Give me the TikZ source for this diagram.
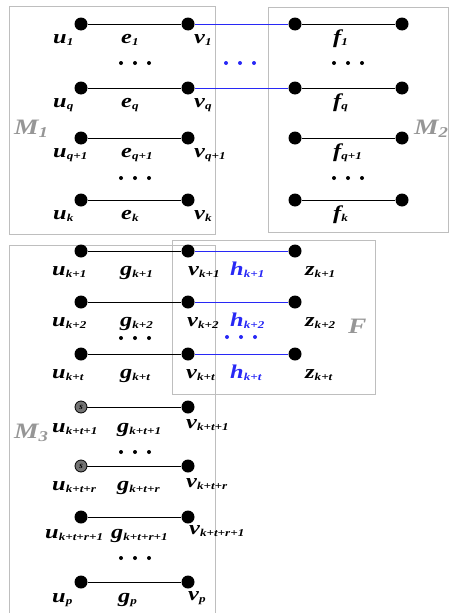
\documentclass[tikz,border=0pt]{standalone}
\usepackage{fontspec}
\setmainfont{Liberation Serif}
\newfontfamily\lblfont[FakeStretch=1.25]{Liberation Serif}
\definecolor{boxgray}{RGB}{190,190,190}
\definecolor{lblgray}{RGB}{150,150,150}
\definecolor{eblue}{RGB}{40,40,245}
\definecolor{sgray}{RGB}{115,115,115}
\newcommand\lb[2]{{\lblfont\bfseries\itshape #1\raisebox{-2.5pt}{\fontsize{10.5}{10.5}\selectfont #2}}}
\tikzset{
  vtx/.style={circle,fill=black,inner sep=0pt,minimum size=13pt},
  svtx/.style={circle,fill=sgray,draw=black,line width=0.8pt,inner sep=0pt,minimum size=12pt,font=\fontsize{9}{9}\selectfont\bfseries\itshape},
  lbl/.style={anchor=base west,inner sep=0pt,font=\fontsize{19.5}{19.5}\selectfont},
  blbl/.style={lbl,text=eblue},
  mlbl/.style={anchor=base west,inner sep=0pt,text=lblgray,font=\fontsize{22}{22}\selectfont\lblfont\bfseries\itshape},
  edge/.style={draw=black,line width=0.9pt},
  bedge/.style={draw=eblue,line width=0.9pt},
  frame/.style={draw=boxgray,line width=0.9pt},
  pics/dots/.style={code={\foreach \i in {-14,0,14} \fill (\i,0) circle (2pt);}}
}
\begin{document}
\begin{tikzpicture}[x=1pt,y=-1pt]
\useasboundingbox (0,0) rectangle (450,613);
% boxes
\draw[frame] (9,6) rectangle (215,234);
\draw[frame] (268,7) rectangle (448,232);
\draw[frame] (9,245) rectangle (215,616);
\draw[frame] (172,240) rectangle (375,394);
% group labels
\node[mlbl] (M1) at (14,134) {M\raisebox{-3pt}{\fontsize{15}{15}\selectfont 1}};
\node[mlbl] (M2) at (414,134) {M\raisebox{-3pt}{\fontsize{15}{15}\selectfont 2}};
\node[mlbl] (M3) at (14,438) {M\raisebox{-3pt}{\fontsize{15}{15}\selectfont 3}};
\node[mlbl] (F) at (348,333) {F};
% top vertices
\foreach \n/\y in {1/24,q/88,q1/138,k/200}{
  \node[vtx] (u\n) at (81,\y) {};
  \node[vtx] (v\n) at (188,\y) {};
  \node[vtx] (fa\n) at (295,\y) {};
  \node[vtx] (fb\n) at (402,\y) {};
  \draw[edge] (u\n) -- (v\n);
  \draw[edge] (fa\n) -- (fb\n);
}
\draw[bedge] (v1) -- (fa1);
\draw[bedge] (vq) -- (faq);
% top labels
\node[lbl] (lu1) at (53,43) {\lb{u}{1}};
\node[lbl] (le1) at (121,43) {\lb{e}{1}};
\node[lbl] (lv1) at (194,43) {\lb{v}{1}};
\node[lbl] (lf1) at (333,43) {\lb{f}{1}};
\node[lbl] (luq) at (53,107) {\lb{u}{q}};
\node[lbl] (leq) at (121,107) {\lb{e}{q}};
\node[lbl] (lvq) at (194,107) {\lb{v}{q}};
\node[lbl] (lfq) at (333,107) {\lb{f}{q}};
\node[lbl] (luq1) at (53,157) {\lb{u}{q+1}};
\node[lbl] (leq1) at (121,157) {\lb{e}{q+1}};
\node[lbl] (lvq1) at (194,157) {\lb{v}{q+1}};
\node[lbl] (lfq1) at (333,157) {\lb{f}{q+1}};
\node[lbl] (luk) at (53,219) {\lb{u}{k}};
\node[lbl] (lek) at (121,219) {\lb{e}{k}};
\node[lbl] (lvk) at (194,219) {\lb{v}{k}};
\node[lbl] (lfk) at (333,219) {\lb{f}{k}};
% dots top
\pic at (135,63) {dots};
\pic[fill=eblue] at (240,63) {dots};
\pic at (348,63) {dots};
\pic at (135,178) {dots};
\pic at (348,178) {dots};
% lower vertices
\foreach \n/\y in {k1/251,k2/302,kt/354}{
  \node[vtx] (u\n) at (81,\y) {};
  \node[vtx] (v\n) at (188,\y) {};
  \node[vtx] (z\n) at (295,\y) {};
  \draw[edge] (u\n) -- (v\n);
  \draw[bedge] (v\n) -- (z\n);
}
\node[svtx] (ukt1) at (81,407) {s};
\node[vtx] (vkt1) at (188,407) {};
\draw[edge] (ukt1) -- (vkt1);
\node[svtx] (uktr) at (81,466) {s};
\node[vtx] (vktr) at (188,466) {};
\draw[edge] (uktr) -- (vktr);
\node[vtx] (uktr1) at (81,517) {};
\node[vtx] (vktr1) at (188,517) {};
\draw[edge] (uktr1) -- (vktr1);
\node[vtx] (up) at (81,582) {};
\node[vtx] (vp) at (188,582) {};
\draw[edge] (up) -- (vp);
% lower labels
\node[lbl] (luk1) at (52,275) {\lb{u}{k+1}};
\node[lbl] (lgk1) at (120,275) {\lb{g}{k+1}};
\node[lbl] (lvk1) at (188,275) {\lb{v}{k+1}};
\node[blbl] (lhk1) at (230,275) {\lb{h}{k+1}};
\node[lbl] (lzk1) at (305,275) {\lb{z}{k+1}};
\node[lbl] (luk2) at (52,326) {\lb{u}{k+2}};
\node[lbl] (lgk2) at (120,326) {\lb{g}{k+2}};
\node[lbl] (lvk2) at (187,326) {\lb{v}{k+2}};
\node[blbl] (lhk2) at (230,326) {\lb{h}{k+2}};
\node[lbl] (lzk2) at (305,326) {\lb{z}{k+2}};
\node[lbl] (lukt) at (52,378) {\lb{u}{k+t}};
\node[lbl] (lgkt) at (120,378) {\lb{g}{k+t}};
\node[lbl] (lvkt) at (186,378) {\lb{v}{k+t}};
\node[blbl] (lhkt) at (230,378) {\lb{h}{k+t}};
\node[lbl] (lzkt) at (305,378) {\lb{z}{k+t}};
\node[lbl] (lukt1) at (52,432) {\lb{u}{k+t+1}};
\node[lbl] (lgkt1) at (117,432) {\lb{g}{k+t+1}};
\node[lbl] (lvkt1) at (186,428) {\lb{v}{k+t+1}};
\node[lbl] (luktr) at (52,490) {\lb{u}{k+t+r}};
\node[lbl] (lgktr) at (117,490) {\lb{g}{k+t+r}};
\node[lbl] (lvktr) at (186,487) {\lb{v}{k+t+r}};
\node[lbl] (luktr1) at (45,538) {\lb{u}{k+t+r+1}};
\node[lbl] (lgktr1) at (111,538) {\lb{g}{k+t+r+1}};
\node[lbl] (lvktr1) at (189,534) {\lb{v}{k+t+r+1}};
\node[lbl] (lup) at (52,602) {\lb{u}{p}};
\node[lbl] (lgp) at (118,602) {\lb{g}{p}};
\node[lbl] (lvp) at (188,600) {\lb{v}{p}};
% lower dots
\pic at (135,338) {dots};
\pic[fill=eblue] at (241,337) {dots};
\pic at (135,452) {dots};
\pic at (135,558) {dots};
\end{tikzpicture}
\end{document}
